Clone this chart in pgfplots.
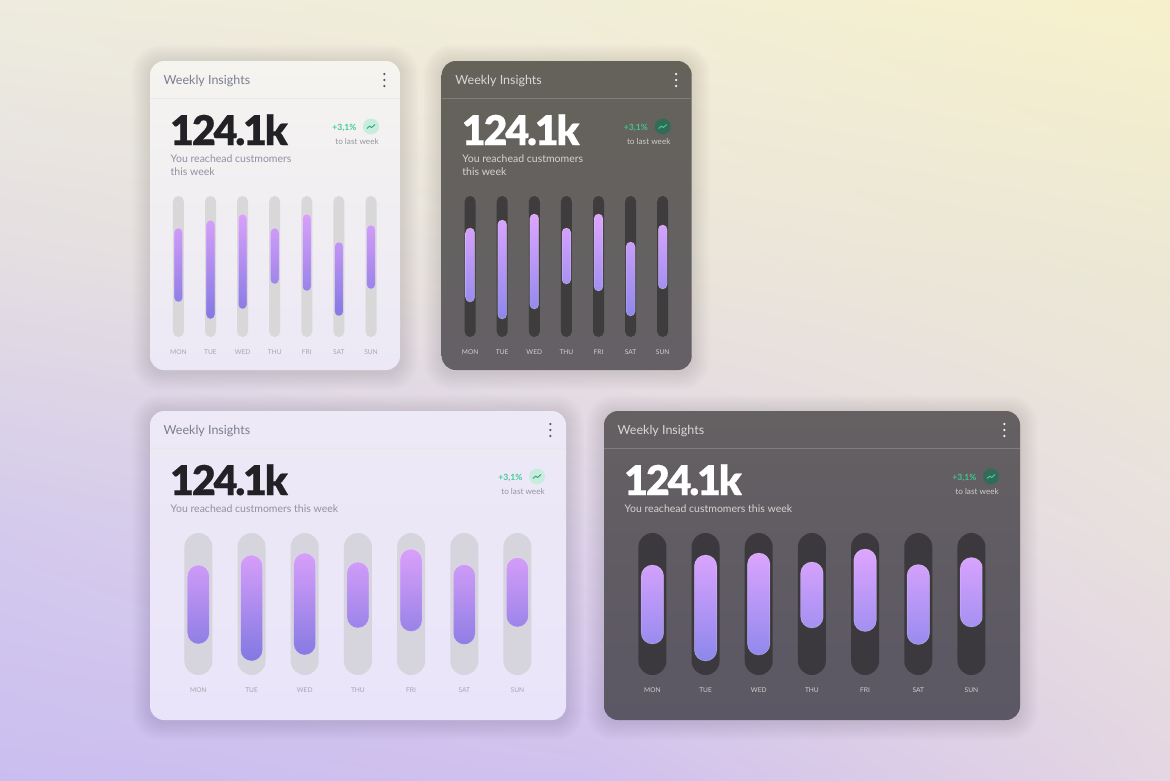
\documentclass[border=0pt]{standalone}
\usepackage{pgfplots}
\usepackage{pgfplotstable}
\usepackage{fontspec}
\usetikzlibrary{shadings}
\pgfplotsset{compat=1.18}
\setmainfont{Lato}
\newfontfamily\bigfont[FakeBold=0.4,LetterSpace=-5]{Lato Black}
\definecolor{bgA}{RGB}{238,236,222}\definecolor{bgAm}{RGB}{241,238,215}\definecolor{bgB}{RGB}{247,241,203}
\definecolor{bgC}{RGB}{228,222,226}\definecolor{bgCm}{RGB}{234,228,220}\definecolor{bgD}{RGB}{236,232,212}
\definecolor{bgE}{RGB}{212,202,236}\definecolor{bgEm}{RGB}{222,212,232}\definecolor{bgF}{RGB}{233,225,222}
\definecolor{bgG}{RGB}{202,190,240}\definecolor{bgGm}{RGB}{208,192,238}\definecolor{bgH}{RGB}{228,214,226}
\definecolor{lightTop}{RGB}{245,244,239}\definecolor{lightBot}{RGB}{236,232,246}
\definecolor{lilacTop}{RGB}{238,233,246}\definecolor{lilacBot}{RGB}{233,228,249}
\definecolor{darkTop}{RGB}{101,98,90}\definecolor{darkBot}{RGB}{100,96,102}
\definecolor{slateTop}{RGB}{101,96,98}\definecolor{slateBot}{RGB}{91,87,100}
\definecolor{trackA}{RGB}{216,216,216}\definecolor{trackB}{RGB}{62,60,60}
\definecolor{trackC}{RGB}{214,212,220}\definecolor{trackD}{RGB}{60,57,62}
\definecolor{barTopL}{RGB}{218,160,250}\definecolor{barBotL}{RGB}{130,120,226}
\definecolor{barTopD}{RGB}{222,165,255}\definecolor{barBotD}{RGB}{140,135,236}
\definecolor{titleL}{RGB}{122,127,145}\definecolor{titleD}{RGB}{216,216,212}
\definecolor{subL}{RGB}{145,145,160}\definecolor{subD}{RGB}{212,212,208}
\definecolor{noteL}{RGB}{150,150,160}\definecolor{noteD}{RGB}{205,205,202}
\definecolor{dayL}{RGB}{165,165,176}\definecolor{dayD}{RGB}{208,208,208}
\definecolor{dotsL}{RGB}{85,90,105}\definecolor{dotsD}{RGB}{245,245,245}
\definecolor{numL}{RGB}{33,33,38}
\definecolor{upL}{RGB}{60,205,150}\definecolor{upD}{RGB}{60,200,140}
\definecolor{icL}{RGB}{200,236,222}\definecolor{icD}{RGB}{50,108,88}
\definecolor{arL}{RGB}{50,165,120}\definecolor{arD}{RGB}{70,210,150}
\definecolor{ruleL}{RGB}{234,232,230}\definecolor{ruleD}{RGB}{128,125,122}
\definecolor{shadowC}{RGB}{70,60,110}

% values are heights above the foot of the track, in pixels
\pgfplotstableread{
idx low high track
0 35 109 141
1 18 117 141
2 28 123 141
3 53 109 141
4 46 123 141
5 21 95 141
6 48 112 141
}\smalldata
\pgfplotstableread{
idx low high track
0 31 110 142
1 14 120 142
2 20 122 142
3 47 113 142
4 43.5 126 142
5 30.5 110.5 142
6 48 117.5 142
}\largedata

\pgfplotsset{cardaxis/.style={
  scale only axis, clip=false, xmin=-0.5, xmax=6.5, ymin=0,
  axis line style={draw=none}, major tick length=0pt, ytick=\empty,
  xtick={0,...,6}, xticklabels={MON,TUE,WED,THU,FRI,SAT,SUN},
}}

% #1 table, #2 first centre x, #3 spacing, #4 foot y, #5 track height, #6 track w, #7 bar w, #8 track col, #9 L/D
\newcommand{\bars}[9]{%
  \pgfmathsetlengthmacro{\axl}{#2pt-0.5*#3pt}%
  \pgfmathsetlengthmacro{\axw}{7*#3pt}%
  \pgfmathsetlengthmacro{\trr}{0.5*#6pt}%
  \pgfmathsetlengthmacro{\brr}{0.5*#7pt}%
  \begin{axis}[cardaxis, at={(\axl,-#4pt)}, anchor=south west, width=\axw, height=#5pt, ymax=#5,
    xticklabel style={font=\fontsize{6.6}{7}\selectfont, text=day#9, anchor=base, yshift=-17pt}]
    \addplot[ybar, bar width=#6pt, bar shift=0pt, fill=#8, draw=none, rounded corners=\trr]
      table[x=idx,y=track]{#1};
  \end{axis}
  \begin{axis}[cardaxis, at={(\axl,-#4pt)}, anchor=south west, width=\axw, height=#5pt, ymax=#5,
    xticklabels={}, ybar stacked, bar width=#7pt]
    \addplot[draw=none, fill=none, bar shift=0pt] table[x=idx,y=low]{#1};
    \addplot[bar shift=0pt, top color=barTop#9, bottom color=barBot#9, shading=axis,
      draw=white, draw opacity=0.35, line width=0.5pt, rounded corners=\brr]
      table[x=idx,y expr=\thisrow{high}-\thisrow{low}]{#1};
  \end{axis}
}

% #1 x, #2 y, #3 width, #4 top, #5 bottom, #6 L/D, #7 number colour, #8 end of the first line
\newcommand{\card}[8]{%
  \foreach \s in {18,16.5,15,13.5,12,10.5,9,7.5,6,4.5,3,1.5}{
    \fill[shadowC, opacity=0.011, rounded corners=14+\s*0.8]
      (#1-\s,#2-\s+2) rectangle ++(#3+2*\s,309+2*\s);}
  \shade[top color=#4, bottom color=#5, rounded corners=14]
    (#1,#2) rectangle ++(#3,309);
  \draw[rule#6, line width=0.7pt] (#1,#2+37.5) -- ++(#3,0);
  \node[anchor=base west, inner sep=0, text=title#6, font=\fontsize{12.5}{14}\selectfont]
    at (#1+13.5,#2+23) {Weekly Insights};
  \foreach \d in {13,19,25}{\fill[dots#6] (#1+#3-15.7,#2+\d) circle (1.25);}
  \node[anchor=base west, inner sep=0, text=#7, font=\bigfont\fontsize{41}{42}\selectfont]
    at (#1+20,#2+84) {124.1k};
  \node[anchor=base west, inner sep=0, text=sub#6, font=\fontsize{10.5}{12}\selectfont]
    at (#1+20.5,#2+101.7) {You reachead custmomers#8};
  \node[anchor=base east, inner sep=0, text=up#6, font=\bfseries\fontsize{8.6}{10}\selectfont]
    at (#1+#3-43.5,#2+69.5) {+3,1\%};
  \fill[ic#6] (#1+#3-29,#2+65.5) circle (8);
  \draw[ar#6, line width=0.9pt, line join=round]
    (#1+#3-33,#2+67.5) -- ++(2.6,-2.4) -- ++(2,1.4) -- ++(3.4,-3);
  \node[anchor=base east, inner sep=0, text=note#6, font=\fontsize{8.2}{10}\selectfont]
    at (#1+#3-21,#2+83.5) {to last week};
}
\newcommand{\bgrow}[8]{%
  \shade[shading=bilinear interpolation, upper left=#3, upper right=#4, lower left=#6, lower right=#7] (0,#1) rectangle (585,#2);
  \shade[shading=bilinear interpolation, upper left=#4, upper right=#5, lower left=#7, lower right=#8] (585,#1) rectangle (1170,#2);
}

\begin{document}
\begin{tikzpicture}[x=1pt,y=-1pt]
  \useasboundingbox (0,0) rectangle (1170,780);
  \bgrow{0}{260}{bgA}{bgAm}{bgB}{bgC}{bgCm}{bgD}
  \bgrow{260}{520}{bgC}{bgCm}{bgD}{bgE}{bgEm}{bgF}
  \bgrow{520}{780}{bgE}{bgEm}{bgF}{bgG}{bgGm}{bgH}

  \card{150}{61}{250}{lightTop}{lightBot}{L}{numL}{}
  \node[anchor=base west, inner sep=0, text=subL, font=\fontsize{10.5}{12}\selectfont] at (170.5,175) {this week};
  \card{441.7}{61}{250}{darkTop}{darkBot}{D}{white}{}
  \node[anchor=base west, inner sep=0, text=subD, font=\fontsize{10.5}{12}\selectfont] at (462.2,175) {this week};
  \card{150}{411}{416}{lilacTop}{lilacBot}{L}{numL}{ this week}
  \card{604}{411}{416}{slateTop}{slateBot}{D}{white}{ this week}

  \bars{\smalldata}{178.4}{32.1}{337}{141}{11}{8.6}{trackA}{L}
  \bars{\smalldata}{470.1}{32.1}{337}{141}{11}{8.8}{trackB}{D}
  \bars{\largedata}{198.4}{53.17}{675}{142}{28}{22}{trackC}{L}
  \bars{\largedata}{652.4}{53.17}{675}{142}{28}{22.5}{trackD}{D}
\end{tikzpicture}
\end{document}
